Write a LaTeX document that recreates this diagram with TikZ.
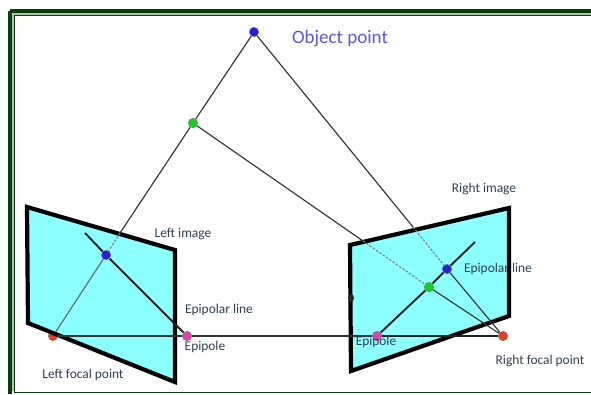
\documentclass[tikz,border=0pt]{standalone}
\usepackage{fontspec}
\setmainfont{Carlito}
\pgfdeclarelayer{backmost}
\pgfdeclarelayer{middle}
\pgfsetlayers{backmost,middle,main}
\definecolor{framegreen}{HTML}{0B3D0B}
\definecolor{framepale}{HTML}{A9C0A9}
\definecolor{planecyan}{HTML}{8CFFFF}
\definecolor{labelgrey}{HTML}{2F4050}
\definecolor{objblue}{HTML}{5B55E8}
\definecolor{ptblue}{HTML}{2A1FE0}
\definecolor{ptgreen}{HTML}{10D020}
\definecolor{ptred}{HTML}{E8401A}
\definecolor{ptpink}{HTML}{E040B0}
\tikzset{
  planeedge/.style={draw=black,line width=4.2pt,fill=planecyan,line join=miter},
  ray/.style={draw=black!80,line width=1.15pt},
  softray/.style={draw=black!60,line width=1.15pt},
  hiddenray/.style={draw=black!50,line width=1.15pt,dash pattern=on 2.4pt off 1.6pt},
  epiline/.style={draw=black!88,line width=1.9pt},
  pt/.style={circle,draw=black!55,line width=0.4pt,minimum size=9.5pt,inner sep=0pt},
  lbl/.style={font=\fontsize{13.4pt}{15pt}\selectfont,text=labelgrey,inner sep=0pt},
  objlbl/.style={font=\fontsize{19pt}{21pt}\selectfont,text=objblue,inner sep=0pt}
}
\begin{document}
\begin{tikzpicture}[x=1pt,y=-1pt]
\useasboundingbox (0,0) rectangle (591,394);
\begin{pgfonlayer}{backmost}
\fill[white] (0,0) rectangle (591,394);
\draw[framegreen,line width=4.3pt] (10.2,11.2) -- (591,11.2);
\draw[framegreen,line width=4.3pt] (10.2,11.2) -- (10.2,394);
\draw[framepale,line width=1.6pt] (13,14) -- (591,14);
\draw[framepale,line width=1.6pt] (13,14) -- (13,391);
\draw[framegreen,line width=1pt] (14,15.5) -- (591,15.5);
\draw[framegreen,line width=1pt] (14,15.5) -- (14,392) -- (591,392);
\node[pt,fill=ptred] (lf) at (53,336) {};
\end{pgfonlayer}

\coordinate (lhit) at (120,233);
\coordinate (lend) at (85,233);
\coordinate (rhitb) at (413,227);
\coordinate (rhitg) at (363,241);
\coordinate (rend) at (475,242);

\node[pt,fill=ptblue] (obj) at (254,32) {};
\node[pt,fill=ptgreen] (g) at (193,123) {};
\node[pt,fill=ptblue] (lb) at (106,255) {};
\node[pt,fill=ptpink] (le) at (187,336) {};
\node[pt,fill=ptblue] (rb) at (447,269) {};
\node[pt,fill=ptgreen] (rg) at (429,287) {};
\node[pt,fill=ptpink] (re) at (377,336) {};
\node[pt,fill=ptred] (rf) at (503,336) {};

\begin{pgfonlayer}{middle}
\draw[planeedge] (27,207) -- (175,250) -- (175,382) -- (28,323) -- cycle;
\draw[planeedge] (350,245) -- (509,208) -- (509,316) -- (351,371) -- cycle;
\fill[black!85] (351,298) ellipse (3pt and 4pt);
\draw[ray] (obj) -- (g) -- (lhit);
\draw[hiddenray] (lhit) -- (lb);
\draw[softray] (lb) -- (lf);
\draw[ray] (obj) -- (rhitb);
\draw[hiddenray] (rhitb) -- (rb);
\draw[ray] (g) -- (rhitg);
\draw[hiddenray] (rhitg) -- (rg);
\draw[ray] (rb) -- (rf);
\draw[ray] (rg) -- (rf);
\draw[ray] (lf) -- (le);
\draw[ray] (le) -- (re);
\draw[epiline] (lend) -- (lb) -- (le);
\draw[epiline] (re) -- (rg) -- (rb) -- (rend);
\draw[epiline] (re) -- (rf);
\end{pgfonlayer}

\node[objlbl] (t0) at (340,39) {Object point};
\node[lbl] (t1) at (183,234) {Left image};
\node[lbl] (t2) at (219,310) {Epipolar line};
\node[lbl] (t3) at (205,347) {Epipole};
\node[lbl] (t4) at (83,375) {Left focal point};
\node[lbl] (t5) at (484,189) {Right image};
\node[lbl] (t6) at (498,269) {Epipolar line};
\node[lbl] (t7) at (376,342) {Epipole};
\node[lbl] (t8) at (540,361) {Right focal point};
\end{tikzpicture}
\end{document}
